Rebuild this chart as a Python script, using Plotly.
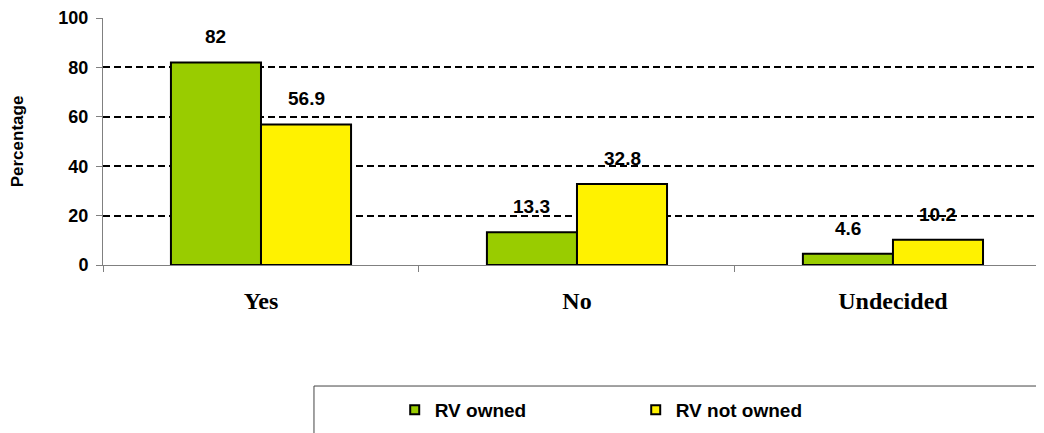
import plotly.graph_objects as go

categories = ["Yes", "No", "Undecided"]
rv_owned = [82, 13.3, 4.6]
rv_not_owned = [56.9, 32.8, 10.2]
series_names = ["RV owned", "RV not owned"]
y_ticks = [0, 20, 40, 60, 80, 100]

green = "#99CC00"
yellow = "#FFF200"
bold_font = "Arial, Liberation Sans"

fig = go.Figure()
for vals, name, col in [(rv_owned, series_names[0], green),
                        (rv_not_owned, series_names[1], yellow)]:
    fig.add_trace(go.Bar(x=categories, y=vals, name=name, showlegend=False,
                         marker=dict(color=col, line=dict(color="black", width=2))))
    # legend-only marker so the swatch can be small like the original
    fig.add_trace(go.Scatter(x=[None], y=[None], mode="markers", name=name,
                             marker=dict(symbol="square", size=9, color=col,
                                         line=dict(color="black", width=2))))

# value labels above each bar (offset left/right for the two series)
for vals, off in [(rv_owned, -0.1425), (rv_not_owned, 0.1425)]:
    for i, v in enumerate(vals):
        fig.add_annotation(x=i + off, y=v, text=f"{v:g}", showarrow=False,
                           yanchor="bottom", yshift=13,
                           font=dict(family=bold_font, size=19, color="black", weight="bold"))

# legend frame, runs off the right/bottom edge like the original
fig.add_shape(type="rect", xref="paper", yref="paper",
              x0=0.2242, x1=1.2, y0=-0.49, y1=-1.2,
              line=dict(color="#444444", width=1), fillcolor="rgba(0,0,0,0)")

# page body adds an 8px margin, so the figure is 8px smaller each way
fig.update_layout(
    width=1036, height=425,
    margin=dict(l=95, r=0, t=10, b=168),
    paper_bgcolor="white", plot_bgcolor="white",
    barmode="group", bargap=0.43, bargroupgap=0,
    font=dict(family=bold_font, color="black"),
    showlegend=True,
    legend=dict(orientation="h", x=0.31, y=-0.587, xanchor="left", yanchor="middle",
                entrywidth=196, itemwidth=30,
                font=dict(size=19, family=bold_font, weight="bold"),
                bgcolor="rgba(0,0,0,0)"),
    xaxis=dict(type="category", range=[-0.5, 2.478], automargin=False,
               showline=True, linecolor="#808080", linewidth=1,
               ticks="outside", tickson="boundaries", ticklen=6, tickcolor="#808080",
               ticklabelstandoff=14,
               tickfont=dict(family="Liberation Serif, Times New Roman", size=24, weight="bold"),
               showgrid=False, zeroline=False),
    yaxis=dict(range=[0, 100], tickvals=y_ticks, automargin=False,
               showline=True, linecolor="#808080", linewidth=1,
               ticks="outside", ticklen=6, tickcolor="#808080",
               ticklabelstandoff=4,
               tickfont=dict(size=18, weight="bold"),
               showgrid=True, gridcolor="black", gridwidth=2, griddash="7px,4px",
               zeroline=False,
               title=dict(text="Percentage", standoff=30,
                          font=dict(size=17, weight="bold"))),
)

fig.write_html("out.html")
